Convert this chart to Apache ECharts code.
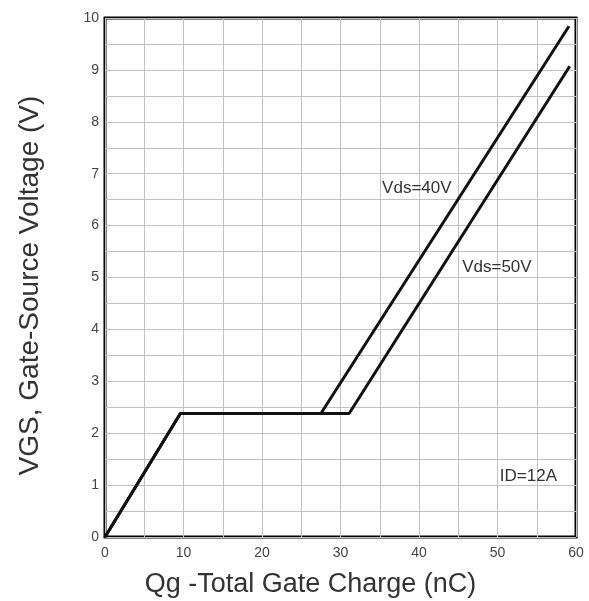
<!DOCTYPE html>
<html>
<head>
<meta charset="utf-8">
<script src="https://cdn.jsdelivr.net/npm/echarts@6/dist/echarts.min.js"></script>
<style>
  html, body { margin: 0; padding: 0; background: #fff; }
  #chart { width: 589px; height: 601px; }
</style>
</head>
<body>
<div id="chart"></div>
<script>
// Gate charge curves (Qg in nC, VGS in V)
const qgVds40 = [0, 9.6, 27.5, 59.1];
const vgsVds40 = [0, 2.38, 2.38, 9.84];
const qgVds50 = [0, 9.6, 31.1, 59.2];
const vgsVds50 = [0, 2.38, 2.38, 9.07];

// Labelled ticks
const xTickLabels = [0, 10, 20, 30, 40, 50, 60];
const yTickLabels = [0, 1, 2, 3, 4, 5, 6, 7, 8, 9, 10];

// Annotation texts with their anchor points in data units
const notes = [
  { text: 'Vds=40V', qg: 35.3, vgs: 6.71 },
  { text: 'Vds=50V', qg: 45.5, vgs: 5.19 },
  { text: 'ID=12A', qg: 50.3, vgs: 1.17 }
];

const pairs = (xs, ys) => xs.map((x, i) => [x, ys[i]]);
const font = '"Liberation Sans", Arial, sans-serif';

const chart = echarts.init(document.getElementById('chart'));
chart.setOption({
  animation: false,
  backgroundColor: '#ffffff',
  grid: {
    left: 105, right: 13, top: 18, bottom: 64,
    outerBoundsMode: 'none', containLabel: false,
    show: true, borderColor: '#000', borderWidth: 3, backgroundColor: 'transparent'
  },
  xAxis: {
    type: 'value', min: 0, max: 60, interval: 5,
    name: 'Qg -Total Gate Charge (nC)',
    nameLocation: 'middle', nameGap: 34,
    nameTextStyle: { fontFamily: font, fontSize: 27, color: '#333', padding: [0, 60, 0, 0] },
    axisLine: { show: false },
    axisTick: { show: false },
    axisLabel: {
      fontFamily: font, fontSize: 14, color: '#444', margin: 9,
      formatter: v => (xTickLabels.includes(v) ? String(v) : '')
    },
    splitLine: { show: true, lineStyle: { color: '#c2c2c2', width: 1 } }
  },
  yAxis: {
    type: 'value', min: 0, max: 10, interval: 0.5,
    name: 'VGS, Gate-Source Voltage (V)',
    nameLocation: 'middle', nameGap: 61,
    nameTextStyle: { fontFamily: font, fontSize: 28, color: '#333', padding: [0, 16, 0, 0] },
    axisLine: { show: false },
    axisTick: { show: false },
    axisLabel: {
      fontFamily: font, fontSize: 14, color: '#444', margin: 6,
      formatter: v => (yTickLabels.includes(v) ? String(v) : '')
    },
    splitLine: { show: true, lineStyle: { color: '#c2c2c2', width: 1 } }
  },
  series: [
    {
      name: 'Vds=40V', type: 'line', data: pairs(qgVds40, vgsVds40),
      symbol: 'none', lineStyle: { color: '#111', width: 3 }, z: 3,
      markPoint: {
        symbol: 'circle', symbolSize: 0,
        label: {
          show: true, position: 'right', distance: 0,
          fontFamily: font, fontSize: 17, color: '#333',
          formatter: p => p.name
        },
        data: notes.map(n => ({ name: n.text, coord: [n.qg, n.vgs] }))
      }
    },
    {
      name: 'Vds=50V', type: 'line', data: pairs(qgVds50, vgsVds50),
      symbol: 'none', lineStyle: { color: '#111', width: 3 }, z: 3
    }
  ]
});
</script>
</body>
</html>
